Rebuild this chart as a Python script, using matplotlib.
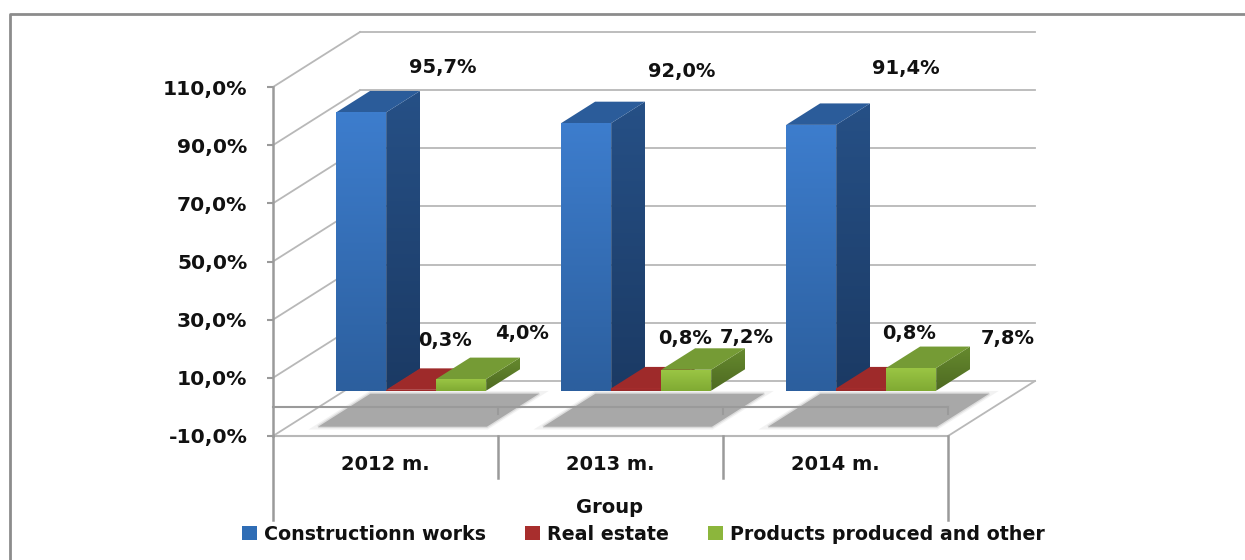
#!/usr/bin/env python3
# -*- coding: utf-8 -*-
"""3D-looking clustered bars, drawn with an oblique projection on normal axes."""
import numpy as np
import matplotlib
matplotlib.use('Agg')
import matplotlib.pyplot as plt
from matplotlib.patches import Polygon, Patch
from matplotlib.lines import Line2D

# Data
years = ['2012 m.', '2013 m.', '2014 m.']
construction = [95.7, 92.0, 91.4]
real_estate = [0.3, 0.8, 0.8]
products = [4.0, 7.2, 7.8]
series_names = ['Constructionn works', 'Real estate', 'Products produced and other']
y_ticks = [-10, 10, 30, 50, 70, 90, 110]

# Styles: (front top, front bottom, side top, side bottom, top face)
blue = ('#3d7dcd', '#2c5f9e', '#265086', '#1b3a64', '#2b5c9a')
red = ('#a82e2d', '#96282a', '#7a2020', '#6a1c1c', '#9e2a2a')
green = ('#9ac544', '#80aa33', '#668a2e', '#4e6a22', '#759b35')
GRID = '#b8b8b8'
AXIS = '#9a9a9a'
FS = 14

# pixel offsets of the value labels from the top of each bar
offsets = [[(82, 45), (34, 49), (61, 46)],
           [(96, 52), (49, 50), (61, 32)],
           [(95, 56), (48, 55), (97, 30)]]

fig = plt.figure(figsize=(12.45, 5.6), dpi=100)
W, H = 1245, 560
L, R, T, B = 273, 948, 87, 436
ax = fig.add_axes([L / W, 1 - B / H, (R - L) / W, (B - T) / H])
ax.patch.set_alpha(0)

# depth vector of the box, in data units
DX = 87 / 225
DY = 55 / ((B - T) / 120)


def proj(x, y, d=0.0):
    """Project a point at category x, value y and depth d (0 front, 1 back)."""
    return (x + DX * d, y + DY * d)


def line(p, q, color=GRID, lw=1.3, z=1):
    ax.add_line(Line2D([p[0], q[0]], [p[1], q[1]], color=color, lw=lw, zorder=z,
                       clip_on=False))


def grad_face(pts, c1, c2, z):
    """Polygon with a vertical gradient from c1 (top) to c2 (bottom)."""
    pts = np.array(pts)
    cols = np.array([matplotlib.colors.to_rgb(c1), matplotlib.colors.to_rgb(c2)])
    img = np.linspace(cols[0], cols[1], 64).reshape(64, 1, 3)
    ext = [pts[:, 0].min(), pts[:, 0].max(), pts[:, 1].min(), pts[:, 1].max()]
    im = ax.imshow(img, extent=ext, aspect='auto', origin='upper', zorder=z,
                   interpolation='bilinear')
    im.set_clip_path(Polygon(pts, transform=ax.transData))
    im.set_clip_box(fig.bbox)


def bar3d(x0, x1, val, depth0, depth1, st, z):
    front = [proj(x0, 0, depth0), proj(x1, 0, depth0), proj(x1, val, depth0), proj(x0, val, depth0)]
    side = [proj(x1, 0, depth0), proj(x1, 0, depth1), proj(x1, val, depth1), proj(x1, val, depth0)]
    top = [proj(x0, val, depth0), proj(x1, val, depth0), proj(x1, val, depth1), proj(x0, val, depth1)]
    grad_face(side, st[2], st[3], z)
    ax.add_patch(Polygon(top, closed=True, fc=st[4], ec='none', zorder=z, clip_on=False))
    grad_face(front, st[0], st[1], z + 0.1)


# back wall, side wall and floor
for v in y_ticks:
    line(proj(0, v), proj(0, v, 1))
    line(proj(0, v, 1), proj(3, v, 1))
line(proj(3, -10), proj(3, -10, 1))
line(proj(0, -10), proj(3, -10), color=GRID, lw=1.5)

# shadows below each group
for i in range(len(years)):
    pts = [proj(i + 0.34, 0, -0.36), proj(i + 1.09, 0, -0.36),
           proj(i + 1.09, 0, 0.24), proj(i + 0.34, 0, 0.24)]
    for lw, a in [(4, 0.15), (2, 0.3)]:
        ax.add_patch(Polygon(pts, closed=True, fc='none', ec='#a8a8a8', lw=lw, alpha=a,
                             zorder=1.5, clip_on=False))
    ax.add_patch(Polygon(pts, closed=True, fc='#a8a8a8', ec='none', zorder=1.6, clip_on=False))

# axis line at zero, on top of the shadows
line(proj(0, 0), proj(3, 0), color=AXIS, lw=1.5, z=1.8)

# bars
bw = 1 / 4.5
margin = 0.75 * bw
d0, d1 = 0.295, 0.685
styles = [blue, red, green]
for i in range(len(years)):
    values = [construction[i], real_estate[i], products[i]]
    for j, v in enumerate(values):
        x0 = i + margin + j * bw
        bar3d(x0, x0 + bw, v, d0, d1, styles[j], 3 + j)
        tip = proj(x0 + bw / 2, v, d0)
        ax.annotate(f'{v:.1f}%'.replace('.', ','), xy=tip, xytext=offsets[i][j],
                    textcoords='offset pixels', ha='center', va='center', fontsize=FS,
                    fontweight='bold', color='#111111', zorder=9, annotation_clip=False)

ax.set_xlim(0, 3)
ax.set_ylim(-10, 110)

# axes: left spine with value ticks, x ticks at zero
for s in ['top', 'right', 'bottom']:
    ax.spines[s].set_visible(False)
ax.spines['left'].set_color(AXIS)
ax.spines['left'].set_linewidth(1.8)
ax.set_yticks(y_ticks)
ax.set_yticklabels([f'{v:.1f}%'.replace('.', ',') for v in y_ticks], fontsize=FS + 0.6,
                   fontweight='bold', color='#111111')
ax.tick_params(axis='y', length=4.5, width=1.5, color=AXIS, pad=14)
ax.set_xticks([])
for i in range(1, 4):
    line((i, 0), (i, -2.4), color=AXIS, lw=1.5, z=1.8)

# category boxes below the floor, in axes fraction for the y part
trans = ax.get_xaxis_transform()
for i in range(4):
    low = -0.121 if i in (1, 2) else -0.24
    ax.add_line(Line2D([i, i], [0, low], transform=trans, color=AXIS, lw=1.8, clip_on=False))
for i, y in enumerate(years):
    ax.text(i + 0.5, -0.083, y, transform=trans, ha='center', va='center', fontsize=FS,
            fontweight='bold', color='#111111')
ax.text(1.494, -0.204, 'Group', transform=trans, ha='center', va='center', fontsize=FS,
        fontweight='bold', color='#111111')

# legend
handles = [Patch(fc=c, ec='none') for c in ['#2f6db5', '#a82e2d', '#8cb63c']]
fig.legend(handles, series_names, loc='center', bbox_to_anchor=(643 / W, 1 - 534 / H), ncol=3,
           frameon=False, prop={'size': FS - 0.3, 'weight': 'bold'}, handlelength=0.8,
           handleheight=0.8, handletextpad=0.36, columnspacing=2.05, borderpad=0,
           labelcolor='#111111')

# outer frame of the picture: only left and top edges are in view
fig.add_artist(Line2D([9.5 / W, 9.5 / W, 1], [0, 1 - 13.5 / H, 1 - 13.5 / H], color='#8c8c8c', lw=2))

fig.savefig('out.png', dpi=100)
